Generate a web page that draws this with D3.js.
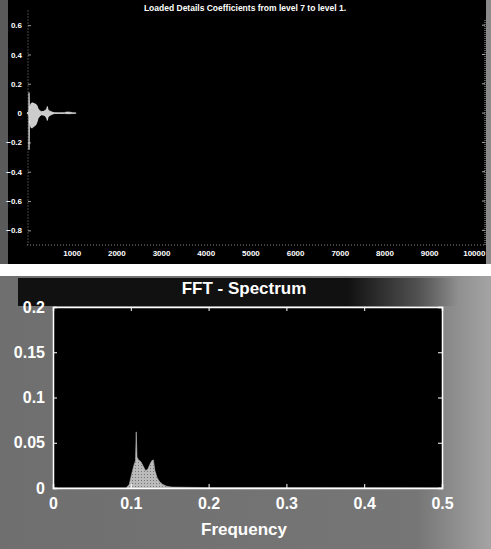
<!DOCTYPE html>
<html><head><meta charset="utf-8">
<script src="https://cdn.jsdelivr.net/npm/d3@7"></script>
<style>body{margin:0;background:#fff}svg{display:block}text{font-family:"Liberation Sans",Arial,sans-serif;font-weight:bold;fill:#fff}</style>
</head><body>
<svg id="c" width="491" height="549"></svg>
<script>
// ---- Top panel data (wavelet detail coefficients, envelope) ----
const coefIdx   = [0, 30, 40, 45, 55, 65, 90, 120, 160, 200, 225, 250, 290, 330, 370, 410, 440, 455, 470, 500, 540, 580, 620, 700, 840, 860, 900, 960, 1000, 1020, 1100];
const coefUpper = [0, 0.01, 0.02, 0.14, 0.03, 0.04, 0.065, 0.07, 0.065, 0.06, 0.05, 0.03, 0.015, 0.01, 0.012, 0.018, 0.03, 0.045, 0.025, 0.015, 0.01, 0.005, 0.003, 0.002, 0.002, 0.005, 0.007, 0.006, 0.004, 0.002, 0];
const coefLower = [0, -0.01, -0.02, -0.25, -0.05, -0.07, -0.1, -0.1, -0.09, -0.08, -0.06, -0.035, -0.018, -0.012, -0.014, -0.02, -0.035, -0.05, -0.03, -0.018, -0.012, -0.006, -0.003, -0.002, -0.002, -0.003, -0.004, -0.004, -0.003, -0.002, 0];
const topXTicks = [1000, 2000, 3000, 4000, 5000, 6000, 7000, 8000, 9000, 10000];
const topYTicks = [0.6, 0.4, 0.2, 0, -0.2, -0.4, -0.6, -0.8];
const topTitle = "Loaded Details Coefficients from level 7 to level 1.";

// ---- Bottom panel data (FFT spectrum) ----
const freq = [0, 0.094, 0.098, 0.101, 0.104, 0.106, 0.107, 0.108, 0.11, 0.113, 0.116, 0.119, 0.122, 0.125, 0.127, 0.129, 0.131, 0.134, 0.137, 0.141, 0.146, 0.152, 0.2, 0.3, 0.5];
const mag  = [0, 0, 0.004, 0.015, 0.025, 0.03, 0.062, 0.034, 0.031, 0.029, 0.024, 0.019, 0.021, 0.027, 0.03, 0.031, 0.019, 0.011, 0.007, 0.004, 0.002, 0.001, 0.0004, 0.0003, 0];
const fftXTicks = [0, 0.1, 0.2, 0.3, 0.4, 0.5];
const fftYTicks = [0, 0.05, 0.1, 0.15, 0.2];

const svg = d3.select("#c");
const defs = svg.append("defs");
const g = defs.append("linearGradient").attr("id","bg").attr("x1","0").attr("x2","1");
g.append("stop").attr("offset","0").attr("stop-color","#6f6f6f");
g.append("stop").attr("offset","0.85").attr("stop-color","#767676");
g.append("stop").attr("offset","1").attr("stop-color","#a4a4a4");
const g2 = defs.append("linearGradient").attr("id","band").attr("x1","0").attr("x2","1");
g2.append("stop").attr("offset","0").attr("stop-color","#111");
g2.append("stop").attr("offset","0.75").attr("stop-color","#111");
g2.append("stop").attr("offset","1").attr("stop-color","#111").attr("stop-opacity",0);
const pat = defs.append("pattern").attr("id","dots").attr("width",3).attr("height",3).attr("patternUnits","userSpaceOnUse");
pat.append("rect").attr("width",3).attr("height",3).attr("fill","#bbb");
pat.append("rect").attr("width",1).attr("height",1).attr("fill","#777");

// ---------- TOP PANEL ----------
svg.append("rect").attr("x",0).attr("y",0).attr("width",491).attr("height",264).attr("fill","#000");
svg.append("rect").attr("x",0).attr("y",0).attr("width",8).attr("height",264).attr("fill","#5a5a5a");
svg.append("rect").attr("x",486).attr("y",0).attr("width",5).attr("height",264).attr("fill","#8a8a8a");

const tx = d3.scaleLinear().domain([0, 10250]).range([27, 485]);
const ty = d3.scaleLinear().domain([-0.9, 0.7]).range([245, 10.5]);

svg.append("text").attr("x",245).attr("y",11).attr("text-anchor","middle").attr("font-size",8.5).text(topTitle);

// frame (dotted gray)
svg.append("line").attr("x1",tx(0)+1).attr("x2",tx(0)+1).attr("y1",ty(0.7)).attr("y2",ty(-0.9))
  .attr("stroke","#888").attr("stroke-dasharray","1,2");
svg.append("line").attr("x1",tx(0)).attr("x2",tx(10250)).attr("y1",ty(-0.9)).attr("y2",ty(-0.9))
  .attr("stroke","#888").attr("stroke-dasharray","1,2");
svg.append("line").attr("x1",tx(10250)).attr("x2",tx(10250)).attr("y1",20).attr("y2",ty(-0.9))
  .attr("stroke","#aaa").attr("stroke-dasharray","1,1");

const topYAxis = d3.axisLeft(ty).tickValues(topYTicks).tickSize(-3).tickPadding(6)
  .tickFormat(d => d === 0 ? "0" : d3.format(".1f")(d));
const gy = svg.append("g").attr("transform",`translate(${tx(0)+1},0)`).call(topYAxis);
gy.select(".domain").remove();
gy.selectAll("line").attr("stroke","#999");
gy.selectAll("text").attr("font-size",8).style("fill","#fff");

const topXAxis = d3.axisBottom(tx).tickValues(topXTicks).tickSize(0).tickPadding(5).tickFormat(d3.format("d"));
const gx = svg.append("g").attr("transform",`translate(0,${ty(-0.9)})`).call(topXAxis);
gx.select(".domain").remove();
gx.selectAll("text").attr("font-size",8).style("fill","#fff");

// right side ticks
svg.selectAll(".rt").data(topYTicks).enter().append("line")
  .attr("x1",tx(10250)-3).attr("x2",tx(10250)).attr("y1",d=>ty(d)).attr("y2",d=>ty(d)).attr("stroke","#aaa");

const coefData = coefIdx.map((d,i)=>({i:d,u:coefUpper[i],l:coefLower[i]}));
svg.append("path").datum(coefData)
  .attr("d", d3.area().x(d=>tx(d.i)).y0(d=>ty(d.l)).y1(d=>ty(d.u)))
  .attr("fill","#ccc").attr("stroke","#eee").attr("stroke-width",0.7);

// ---------- BOTTOM PANEL ----------
svg.append("rect").attr("x",0).attr("y",276).attr("width",491).attr("height",273).attr("fill","url(#bg)");
svg.append("rect").attr("x",18).attr("y",278).attr("width",440).attr("height",28).attr("fill","url(#band)");

const fx = d3.scaleLinear().domain([0, 0.5]).range([53, 442]);
const fy = d3.scaleLinear().domain([0, 0.2]).range([488, 307]);

svg.append("rect").attr("x",fx(0)).attr("y",fy(0.2)).attr("width",fx(0.5)-fx(0)).attr("height",fy(0)-fy(0.2)).attr("fill","#000");

svg.append("text").attr("x",244).attr("y",294).attr("text-anchor","middle").attr("font-size",17).text("FFT - Spectrum");

const specData = freq.map((f,i)=>({f, m:mag[i]}));
svg.append("path").datum(specData)
  .attr("d", d3.area().x(d=>fx(d.f)).y0(fy(0)).y1(d=>fy(d.m)))
  .attr("fill","url(#dots)").attr("stroke","#bbb").attr("stroke-width",0.6);

const fAxL = d3.axisLeft(fy).tickValues(fftYTicks).tickSize(-4).tickPadding(8).tickFormat(d => d===0?"0":String(d));
const gfl = svg.append("g").attr("transform",`translate(${fx(0)},0)`).call(fAxL);
const fAxR = d3.axisRight(fy).tickValues(fftYTicks).tickSize(-4).tickFormat("");
const gfr = svg.append("g").attr("transform",`translate(${fx(0.5)},0)`).call(fAxR);
const fAxB = d3.axisBottom(fx).tickValues(fftXTicks).tickSize(-4).tickPadding(10).tickFormat(d => d===0?"0":String(d));
const gfb = svg.append("g").attr("transform",`translate(0,${fy(0)})`).call(fAxB);
const fAxT = d3.axisTop(fx).tickValues(fftXTicks).tickSize(-4).tickFormat("");
const gft = svg.append("g").attr("transform",`translate(0,${fy(0.2)})`).call(fAxT);
[gfl,gfr,gfb,gft].forEach(a=>{
  a.select(".domain").attr("stroke","#fff").attr("stroke-width",1.5);
  a.selectAll("line").attr("stroke","#fff");
  a.selectAll("text").attr("font-size",16).style("fill","#fff");
});

svg.append("text").attr("x",244).attr("y",535).attr("text-anchor","middle").attr("font-size",17).text("Frequency");
</script>
</body></html>
